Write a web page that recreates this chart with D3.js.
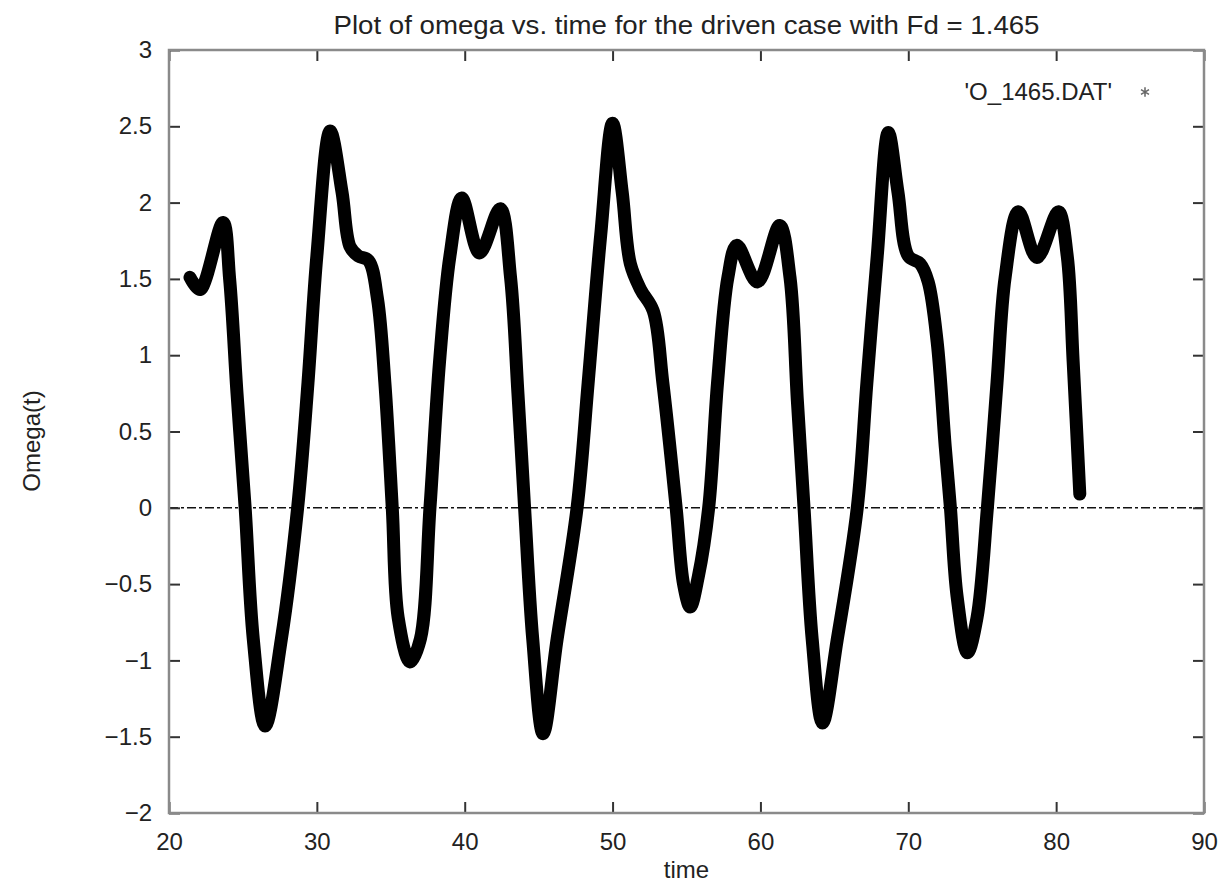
<!DOCTYPE html>
<html>
<head>
<meta charset="utf-8">
<script src="https://cdn.jsdelivr.net/npm/d3@7"></script>
<style>
  html, body { margin: 0; padding: 0; background: #fff; }
  text { font-family: "Liberation Sans", Arial, sans-serif; fill: #222; }
</style>
</head>
<body>
<div id="chart"></div>
<script>
// values
const time = [21.42, 22.1, 23.65, 24.1, 24.6, 25.15, 25.7, 26.5, 27.6, 28.7, 29.4, 30.0, 30.9,
  31.7, 32.25, 32.8, 33.5, 34.1, 34.6, 35.1, 35.5, 36.3, 37.0, 37.65, 38.3, 39.0, 39.8,
  41.0, 42.4, 43.1, 43.6, 44.05, 44.6, 45.3, 46.25, 47.6, 48.35, 49.2, 50.0, 50.65, 51.2,
  51.9, 52.75, 53.4, 54.3, 54.8, 55.25, 55.8, 56.5, 57.1, 57.8, 58.4, 59.8, 61.3, 62.0,
  62.5, 62.95, 63.5, 64.2, 65.2, 66.55, 67.2, 67.9, 68.65, 69.3, 70.0, 70.8, 71.35, 71.95,
  72.5, 72.85, 73.3, 74.0, 74.65, 75.35, 76.0, 76.55, 77.45, 78.7, 80.15, 80.75, 81.15, 81.6];
const omega = [1.51, 1.43, 1.87, 1.5, 0.75, 0.0, -0.86, -1.43, -0.86, 0.0, 0.82, 1.65, 2.47,
  2.07, 1.71, 1.65, 1.62, 1.37, 0.82, 0.0, -0.72, -1.01, -0.86, 0.0, 0.96, 1.65, 2.03,
  1.67, 1.96, 1.51, 0.75, 0.0, -0.86, -1.48, -0.86, 0.0, 0.82, 1.79, 2.52, 2.07, 1.6,
  1.43, 1.29, 0.82, 0.0, -0.5, -0.65, -0.45, 0.0, 0.82, 1.51, 1.72, 1.48, 1.85, 1.51,
  0.7, 0.0, -0.86, -1.41, -0.86, 0.0, 0.82, 1.65, 2.46, 2.07, 1.65, 1.6, 1.48, 1.09,
  0.4, 0.0, -0.58, -0.95, -0.72, 0.0, 0.82, 1.51, 1.94, 1.64, 1.94, 1.65, 0.96, 0.09];
const xTicks = [20, 30, 40, 50, 60, 70, 80, 90];
const yTicks = [-2, -1.5, -1, -0.5, 0, 0.5, 1, 1.5, 2, 2.5, 3];

const W = 1222, H = 882;
const margin = {top: 50, right: 18, bottom: 69, left: 169};
const iw = W - margin.left - margin.right;
const ih = H - margin.top - margin.bottom;

const svg = d3.select('#chart').append('svg')
  .attr('width', W)
  .attr('height', H);

const g = svg.append('g').attr('transform', `translate(${margin.left},${margin.top})`);

const x = d3.scaleLinear().domain([20, 90]).range([0, iw]);
const y = d3.scaleLinear().domain([-2, 3]).range([ih, 0]);

// zero axis (dash-dot)
g.append('line')
  .attr('x1', 0).attr('x2', iw)
  .attr('y1', y(0)).attr('y2', y(0))
  .attr('stroke', '#111')
  .attr('stroke-width', 1.5)
  .attr('stroke-dasharray', '9,3,3,3');

// data line
const data = time.map((t, i) => [t, omega[i]]);
const line = d3.line()
  .x(d => x(d[0]))
  .y(d => y(d[1]))
  .curve(d3.curveCatmullRom.alpha(0.5));

g.append('path')
  .datum(data)
  .attr('d', line)
  .attr('fill', 'none')
  .attr('stroke', '#000')
  .attr('stroke-width', 13)
  .attr('stroke-linecap', 'round')
  .attr('stroke-linejoin', 'round');

// axes, ticks point inward like gnuplot
function styleAxis(sel) {
  sel.select('.domain').remove();
  sel.selectAll('.tick line').attr('stroke', '#333').attr('stroke-width', 2);
  sel.selectAll('.tick text').attr('font-size', 24).attr('fill', '#222')
    .style('font-family', '"Liberation Sans", Arial, sans-serif');
}

g.append('g')
  .attr('transform', `translate(0,${ih})`)
  .call(d3.axisBottom(x).tickValues(xTicks).tickSizeInner(-11).tickSizeOuter(0).tickPadding(20))
  .call(styleAxis);

g.append('g')
  .call(d3.axisTop(x).tickValues(xTicks).tickSizeInner(-11).tickSizeOuter(0).tickFormat(''))
  .call(styleAxis);

g.append('g')
  .call(d3.axisLeft(y).tickValues(yTicks).tickSizeInner(-11).tickSizeOuter(0).tickPadding(17)
    .tickFormat(d3.format('')))
  .call(styleAxis);

g.append('g')
  .attr('transform', `translate(${iw},0)`)
  .call(d3.axisRight(y).tickValues(yTicks).tickSizeInner(-11).tickSizeOuter(0).tickFormat(''))
  .call(styleAxis);

// frame
g.append('rect')
  .attr('x', 0).attr('y', 0)
  .attr('width', iw).attr('height', ih)
  .attr('fill', 'none')
  .attr('stroke', '#8a8a8a')
  .attr('stroke-width', 2.5);

// title and labels
svg.append('text')
  .attr('x', margin.left + iw / 2)
  .attr('y', 34)
  .attr('text-anchor', 'middle')
  .attr('font-size', 25)
  .attr('textLength', 706)
  .attr('lengthAdjust', 'spacingAndGlyphs')
  .text('Plot of omega vs. time for the driven case with Fd = 1.465');

svg.append('text')
  .attr('x', margin.left + iw / 2)
  .attr('y', 878)
  .attr('text-anchor', 'middle')
  .attr('font-size', 24)
  .text('time');

svg.append('text')
  .attr('transform', `translate(40,441) rotate(-90)`)
  .attr('text-anchor', 'middle')
  .attr('font-size', 24)
  .text('Omega(t)');

// key
svg.append('text')
  .attr('x', 1112)
  .attr('y', 100)
  .attr('text-anchor', 'end')
  .attr('font-size', 24)
  .text("'O_1465.DAT'");

svg.append('path')
  .attr('transform', 'translate(1145,92)')
  .attr('d', d3.symbol().type(d3.symbolAsterisk).size(60)())
  .attr('fill', 'none')
  .attr('stroke', '#666')
  .attr('stroke-width', 1.5);
</script>
</body>
</html>
